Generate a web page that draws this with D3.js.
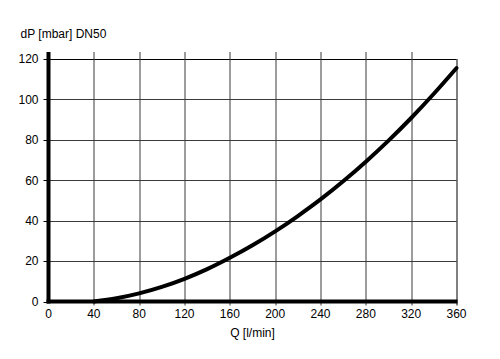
<!DOCTYPE html>
<html>
<head>
<meta charset="utf-8">
<script src="https://cdn.jsdelivr.net/npm/d3@7"></script>
<style>
  body { margin: 0; background: #fff; }
  svg { display: block; font-family: "Liberation Sans", Arial, sans-serif; }
</style>
</head>
<body>
<div id="chart"></div>
<script>
// flow Q [l/min] vs pressure drop dP [mbar]
const flowQ = [40, 60, 80, 100, 120, 140, 160, 180, 200, 220, 240, 260, 280, 300, 320, 340, 360];
const dropP = [0, 1.6, 4.0, 7.2, 11.2, 16.0, 21.6, 27.8, 34.7, 42.3, 50.5, 59.5, 69.2, 79.6, 90.8, 102.8, 115.5];
const xTicks = [0, 40, 80, 120, 160, 200, 240, 280, 320, 360];
const yTicks = [0, 20, 40, 60, 80, 100, 120];
const yTitle = 'dP [mbar] DN50';
const xTitle = 'Q [l/min]';

const width = 500, height = 359;
const margin = { top: 59, right: 43.5, bottom: 57.5, left: 48.5 };
const innerW = width - margin.left - margin.right;
const innerH = height - margin.top - margin.bottom;
const fontSize = '12px';

const svg = d3.select('#chart').append('svg')
    .attr('width', width)
    .attr('height', height);

const plot = svg.append('g')
    .attr('transform', `translate(${margin.left},${margin.top})`);

const xScale = d3.scaleLinear().domain([0, 360]).range([0, innerW]);
const yScale = d3.scaleLinear().domain([0, 120]).range([innerH, 0]);

const gridColor = '#3a3a3a';

// horizontal grid
plot.append('g')
    .selectAll('line')
    .data(yTicks.filter(d => d > 0))
    .enter()
    .append('line')
    .attr('x1', 0)
    .attr('x2', innerW)
    .attr('y1', d => Math.round(yScale(d)) + 0.5)
    .attr('y2', d => Math.round(yScale(d)) + 0.5)
    .attr('stroke', d => d === 120 ? '#000' : gridColor)
    .attr('stroke-width', 1);

// vertical grid (pokes a little above the frame, as in the original)
plot.append('g')
    .selectAll('line')
    .data(xTicks.filter(d => d > 0))
    .enter()
    .append('line')
    .attr('x1', d => Math.round(xScale(d)) + 0.5)
    .attr('x2', d => Math.round(xScale(d)) + 0.5)
    .attr('y1', d => d === 360 ? 0 : -7)
    .attr('y2', innerH + 4)
    .attr('stroke', d => d === 360 ? '#000' : gridColor)
    .attr('stroke-width', 1);

// y ticks on the left
plot.append('g')
    .selectAll('line')
    .data(yTicks)
    .enter()
    .append('line')
    .attr('x1', -5)
    .attr('x2', 0)
    .attr('y1', d => Math.round(yScale(d)) + 0.5)
    .attr('y2', d => Math.round(yScale(d)) + 0.5)
    .attr('stroke', '#000')
    .attr('stroke-width', 1);

// thick axes
plot.append('line')
    .attr('x1', 0).attr('x2', 0)
    .attr('y1', -7).attr('y2', innerH + 2)
    .attr('stroke', '#000').attr('stroke-width', 4);
plot.append('line')
    .attr('x1', -2).attr('x2', innerW + 1)
    .attr('y1', innerH).attr('y2', innerH)
    .attr('stroke', '#000').attr('stroke-width', 4);

// curve
const points = flowQ.map((q, i) => ({ q: q, p: dropP[i] }));
const line = d3.line()
    .curve(d3.curveMonotoneX)
    .x(d => xScale(d.q))
    .y(d => yScale(d.p));

plot.append('path')
    .datum(points)
    .attr('fill', 'none')
    .attr('stroke', '#000')
    .attr('stroke-width', 4)
    .attr('stroke-linecap', 'round')
    .attr('d', line);

// tick labels
plot.append('g')
    .selectAll('text')
    .data(yTicks)
    .enter()
    .append('text')
    .attr('x', -10)
    .attr('y', d => yScale(d))
    .attr('dy', '0.36em')
    .attr('text-anchor', 'end')
    .attr('font-size', fontSize)
    .attr('fill', '#000')
    .text(d => d);

plot.append('g')
    .selectAll('text')
    .data(xTicks)
    .enter()
    .append('text')
    .attr('x', d => xScale(d))
    .attr('y', innerH + 16.5)
    .attr('text-anchor', 'middle')
    .attr('font-size', fontSize)
    .attr('fill', '#000')
    .text(d => d);

svg.append('text')
    .attr('x', 20.5)
    .attr('y', 37.5)
    .attr('font-size', fontSize)
    .attr('fill', '#000')
    .text(yTitle);

svg.append('text')
    .attr('x', margin.left + innerW / 2)
    .attr('y', 336.5)
    .attr('text-anchor', 'middle')
    .attr('font-size', fontSize)
    .attr('fill', '#000')
    .text(xTitle);
</script>
</body>
</html>
